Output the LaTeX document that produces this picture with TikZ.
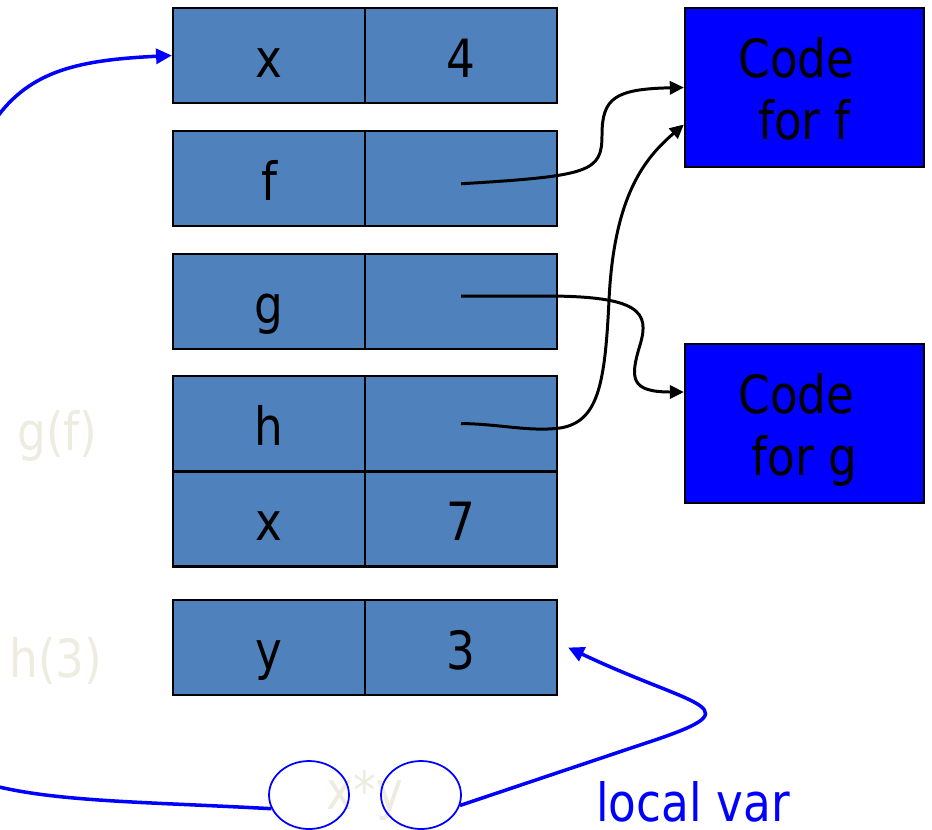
\documentclass[tikz,border=0pt]{standalone}
\usepackage{fontspec}
\setmainfont{DejaVu Sans}[FakeStretch=0.86]
\usetikzlibrary{arrows.meta,shapes.geometric}
\definecolor{cellblue}{HTML}{4F81BD}
\definecolor{codeblue}{HTML}{0000FF}
\definecolor{faded}{HTML}{EEECE1}

\begin{document}
\begin{tikzpicture}[x=0.02cm,y=-0.02cm,
    font=\fontsize{30}{35}\selectfont,
    cell/.style={draw,line width=1.3pt,fill=cellblue,minimum width=3.84cm,minimum height=1.9cm,inner sep=0pt,text height=0.86cm,text depth=0pt},
    codebox/.style={draw,line width=1.3pt,fill=codeblue,minimum width=4.78cm,minimum height=3.18cm},
    codetext/.style={align=center,inner sep=0pt},
    ptr/.style={line width=1.7pt,-{Triangle[length=8pt,width=7.5pt]}},
    call/.style={draw=codeblue,line width=2pt},
    calltip/.style={-{Triangle[length=9pt,width=8.5pt]}},
    ghost/.style={text=faded,inner sep=0pt},
    hole/.style={ellipse,draw=codeblue,line width=1pt,minimum width=1.6cm,minimum height=1.36cm}]
\useasboundingbox (0,0) rectangle (932,829);

\foreach \i/\y/\key/\val in {1/55.5/x/4, 2/178.5/f/{}, 3/301.5/g/{}, 4/423.5/h/{}, 5/519/x/7, 6/647.5/y/3}
{
    \node[cell] (k\i) at (269,\y) {\key};
    \node[cell] (v\i) at (461,\y) {\val};
}

\node[codebox] (cf) at (804.5,87.5) {};
\node[codetext] (cft) at ([yshift=-5pt]cf.center) {\strut Code\kern.3em\\\strut for f};
\node[codebox] (cg) at (804.5,423.5) {};
\node[codetext] (cgt) at ([yshift=-5pt]cg.center) {\strut Code\kern.3em\\\strut for g};

\draw[ptr] ([yshift=-3pt]v2.center) .. controls (590,176) and (602,172) .. (602,135) .. controls (602,98) and (615,89) .. (cf.west);
\draw[ptr] ([yshift=3pt]v3.center) -- (545,296) .. controls (640,296) and (650,312) .. (640,345) .. controls (630,378) and (630,392) .. ([yshift=0.63cm]cg.west);
\draw[ptr] (v4.center) .. controls (500,424) and (530,432) .. (560,428) .. controls (598,422) and (605,385) .. (609,300) .. controls (614,195) and (645,158) .. ([yshift=-0.74cm]cf.west);

\node[ghost,anchor=base west] (gf) at (17,450) {g(f)};
\node[ghost,anchor=base west] (h3) at (9,677) {h(3)};
\node[ghost,anchor=base] (xy) at (365,809) {x*y};
\node[hole] (e1) at (309,795) {};
\node[hole] (e2) at (421,795) {};
\node[text=codeblue,inner sep=0pt,anchor=base west] (lv) at (596,821) {local var};

\coordinate (callin) at (-5,120);
\coordinate (callout) at (-5,786);
\draw[call,calltip] (callin) .. controls (30,70) and (80,60) .. (k1.west);
\draw[call] (callout) .. controls (60,802) and (150,802) .. (e1.200);
\draw[call,calltip] (e2.345) -- (640,745) .. controls (760,706) and (700,710) .. ([xshift=0.2cm]v6.east);
\end{tikzpicture}
\end{document}
